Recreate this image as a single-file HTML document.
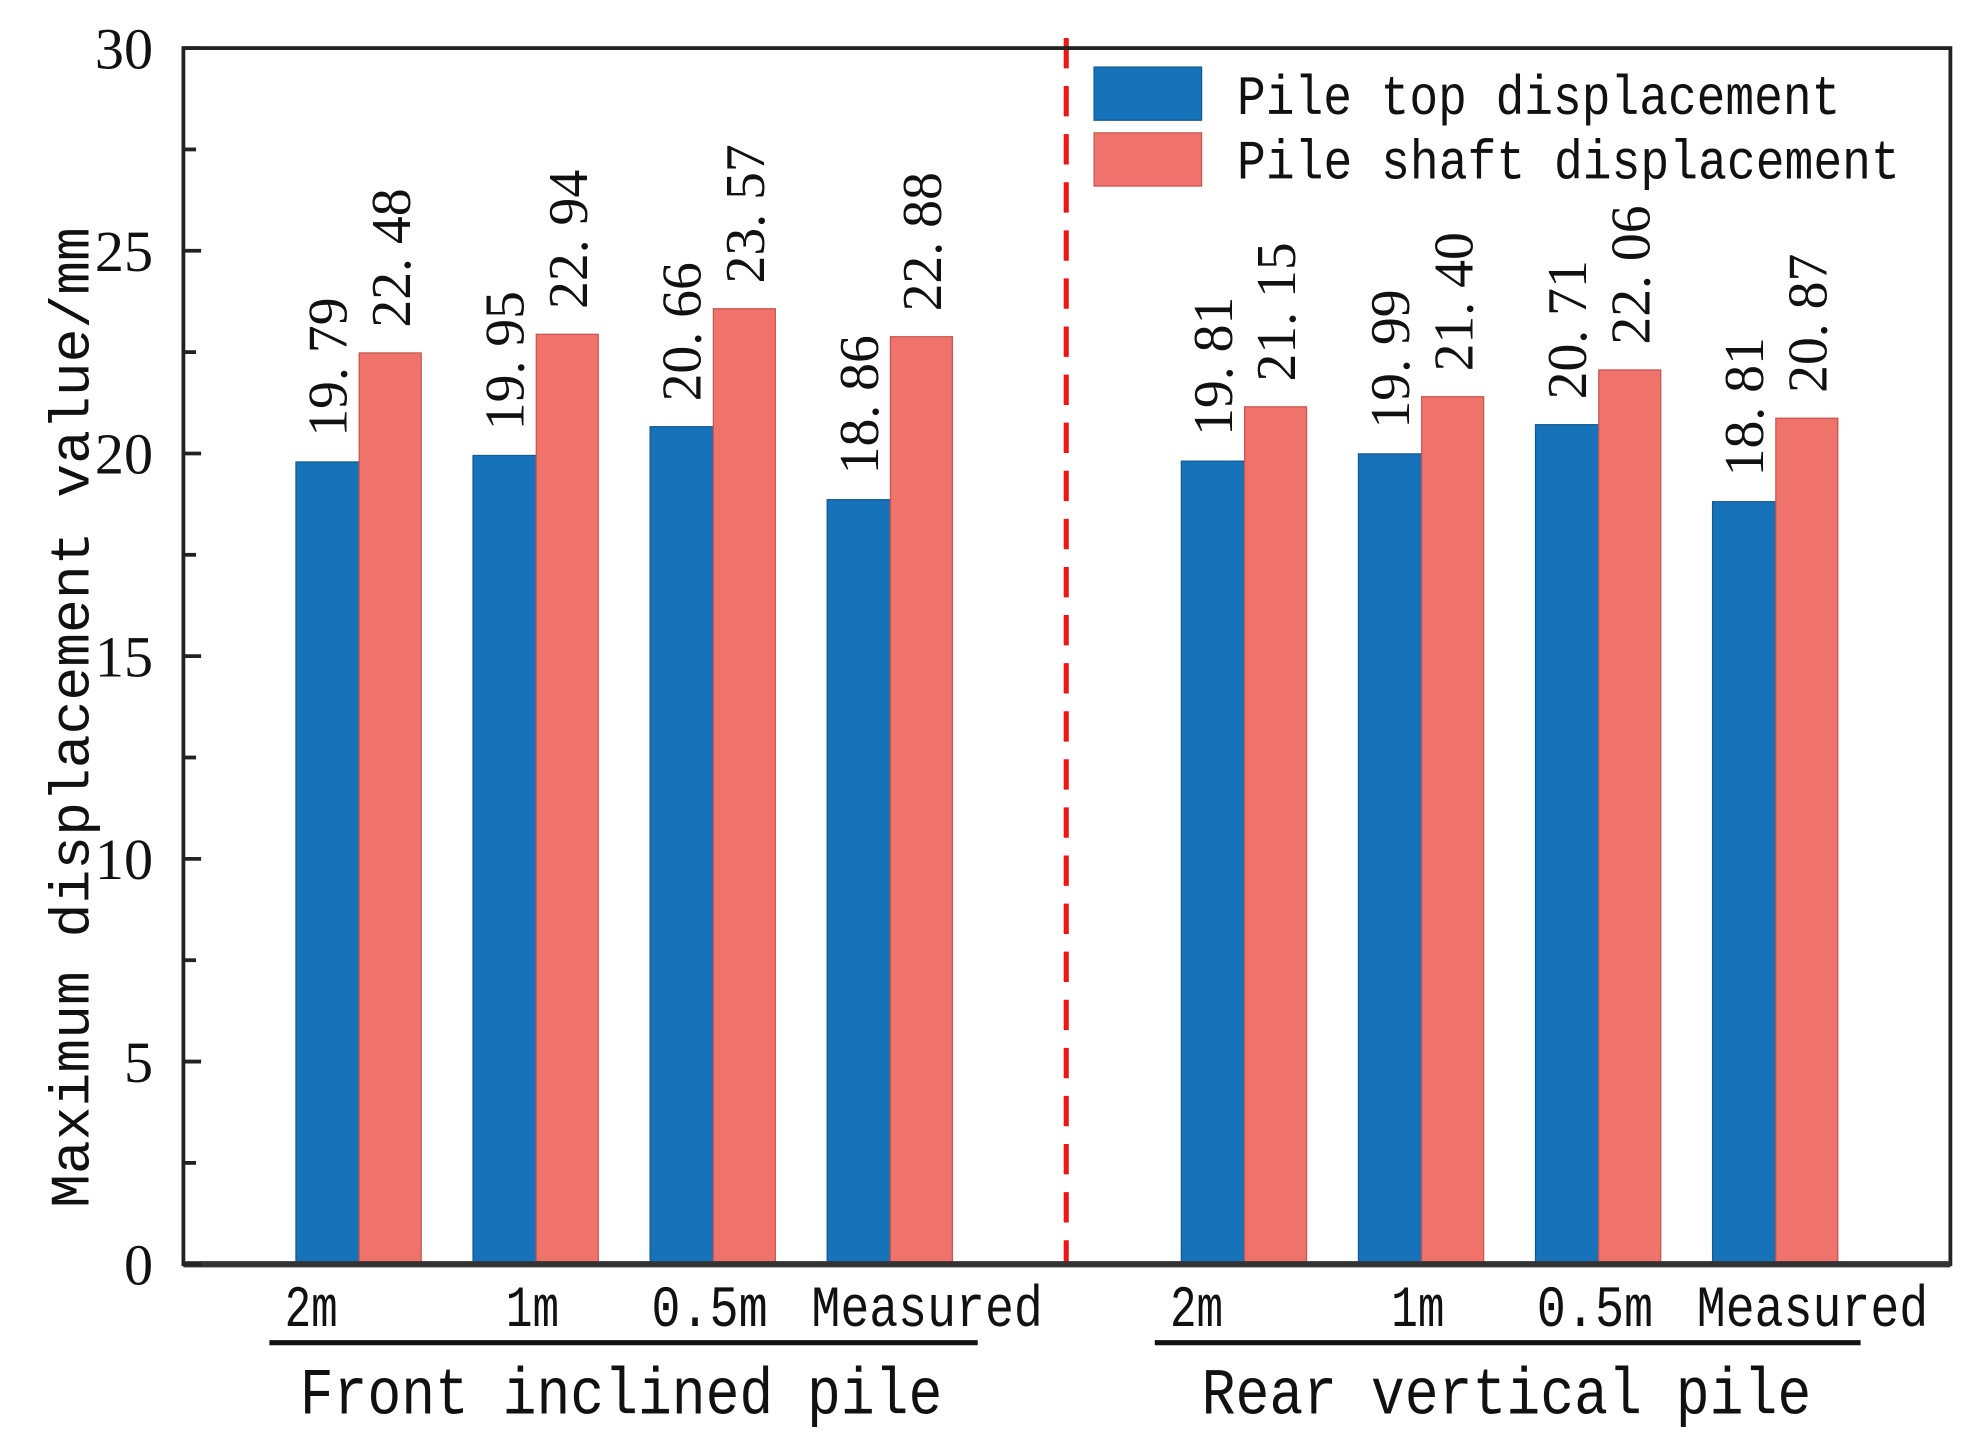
<!DOCTYPE html>
<html><head><meta charset="utf-8"><style>
html,body{margin:0;padding:0;background:#fff;}
svg{display:block;}
text{font-family:"Liberation Serif","Noto Serif CJK SC",serif;fill:#111;}
text.mono{font-family:"Liberation Mono","Noto Sans CJK SC",monospace;}
</style></head><body>
<svg id="chart" width="1982" height="1449" viewBox="0 0 1567 1145" preserveAspectRatio="none" xmlns="http://www.w3.org/2000/svg">
<g id="plot"></g>
</svg>
<script>
const categories = ["2m","1m","0.5m","Measured","2m","1m","0.5m","Measured"];
const groups = ["Front inclined pile","Rear vertical pile"];
const topValues = [19.79,19.95,20.66,18.86,19.81,19.99,20.71,18.81];
const shaftValues = [22.48,22.94,23.57,22.88,21.15,21.40,22.06,20.87];
const topLabels = ["19. 79","19. 95","20. 66","18. 86","19. 81","19. 99","20. 71","18. 81"];
const shaftLabels = ["22. 48","22. 94","23. 57","22. 88","21. 15","21. 40","22. 06","20. 87"];
const yTicks = [0,5,10,15,20,25,30];

const NS="http://www.w3.org/2000/svg";
const g=document.getElementById('plot');
const L=145,R=1542,T=38,B=999,YMAX=30;
function y(v){return B-v*(B-T)/YMAX;}
function slot(i){return 284+140*(i<4?i:i+1);}
function mk(tag,attrs,parent){const e=document.createElementNS(NS,tag);for(const k in attrs)e.setAttribute(k,attrs[k]);(parent||g).appendChild(e);return e;}
const BW=50;
const labOff=[-35,0,0,32,-35,0,0,32];
const labW=[42,42,92,183,42,42,92,183];

for(let i=0;i<categories.length;i++){
  const c=slot(i);
  let b=mk('rect',{x:c-BW,y:y(topValues[i]),width:BW,height:B-y(topValues[i]),fill:'#1773b9',stroke:'#125a94','stroke-width':1});
  
  
  let r=mk('rect',{x:c,y:y(shaftValues[i]),width:BW-1,height:B-y(shaftValues[i]),fill:'#ef736b',stroke:'#c9564f','stroke-width':1});
  
  
  let t1=mk('text',{transform:`translate(${c-BW/2+15},${y(topValues[i])-20}) rotate(-90)`,'font-size':44,textLength:110,lengthAdjust:'spacingAndGlyphs'});
  t1.textContent=topLabels[i];
  
  
  let t2=mk('text',{transform:`translate(${c+BW/2+15},${y(shaftValues[i])-20}) rotate(-90)`,'font-size':44,textLength:110,lengthAdjust:'spacingAndGlyphs'});
  t2.textContent=shaftLabels[i];
  
  
  let cl=mk('text',{class:'mono',x:c+labOff[i]-3,y:1048,'font-size':46,'text-anchor':'middle',textLength:labW[i],lengthAdjust:'spacingAndGlyphs'});
  cl.textContent=categories[i];
  
  
}
let dl=mk('line',{x1:843,x2:843,y1:30,y2:998,stroke:'#f01414','stroke-width':4,'stroke-dasharray':'24,14'});


let fr=mk('rect',{x:L,y:T,width:R-L,height:B-T,fill:'none',stroke:'#222','stroke-width':3});


let xa=mk('line',{x1:L,x2:R,y1:B,y2:B,stroke:'#333','stroke-width':5});


for(let v=0;v<=YMAX;v+=2.5){
  let tk=mk('line',{x1:L,x2:L+(v%5===0?14:10),y1:y(v),y2:y(v),stroke:'#222','stroke-width':3});
  
  
}
yTicks.forEach(v=>{
  let t=mk('text',{x:121,y:y(v)+16,'font-size':46,'text-anchor':'end'});
  t.textContent=v;
  
  
});
let yt=mk('text',{class:'mono',transform:'translate(70,567) rotate(-90)','font-size':44,'text-anchor':'middle',textLength:775,lengthAdjust:'spacingAndGlyphs'});
yt.textContent='Maximum displacement value/mm';


const gl=[[213,773,491],[913,1471,1191]];
groups.forEach((name,k)=>{
  let ln=mk('line',{x1:gl[k][0],x2:gl[k][1],y1:1061,y2:1061,stroke:'#111','stroke-width':4});
  
  
  let t=mk('text',{class:'mono',x:gl[k][2],y:1117,'font-size':52,'text-anchor':'middle',textLength:k?482:508,lengthAdjust:'spacingAndGlyphs'});
  t.textContent=name;
  
  
});
let lg=mk('g',{});


let lb=mk('rect',{x:865,y:53,width:85,height:42,fill:'#1773b9',stroke:'#125a94','stroke-width':1},lg);


let lr=mk('rect',{x:865,y:105,width:85,height:42,fill:'#ef736b',stroke:'#c9564f','stroke-width':1},lg);


let l1=mk('text',{class:'mono',x:978,y:90,'font-size':44,textLength:477,lengthAdjust:'spacingAndGlyphs'},lg);
l1.textContent='Pile top displacement';


let l2=mk('text',{class:'mono',x:978,y:141,'font-size':44,textLength:524,lengthAdjust:'spacingAndGlyphs'},lg);
l2.textContent='Pile shaft displacement';


</script>
</body></html>
